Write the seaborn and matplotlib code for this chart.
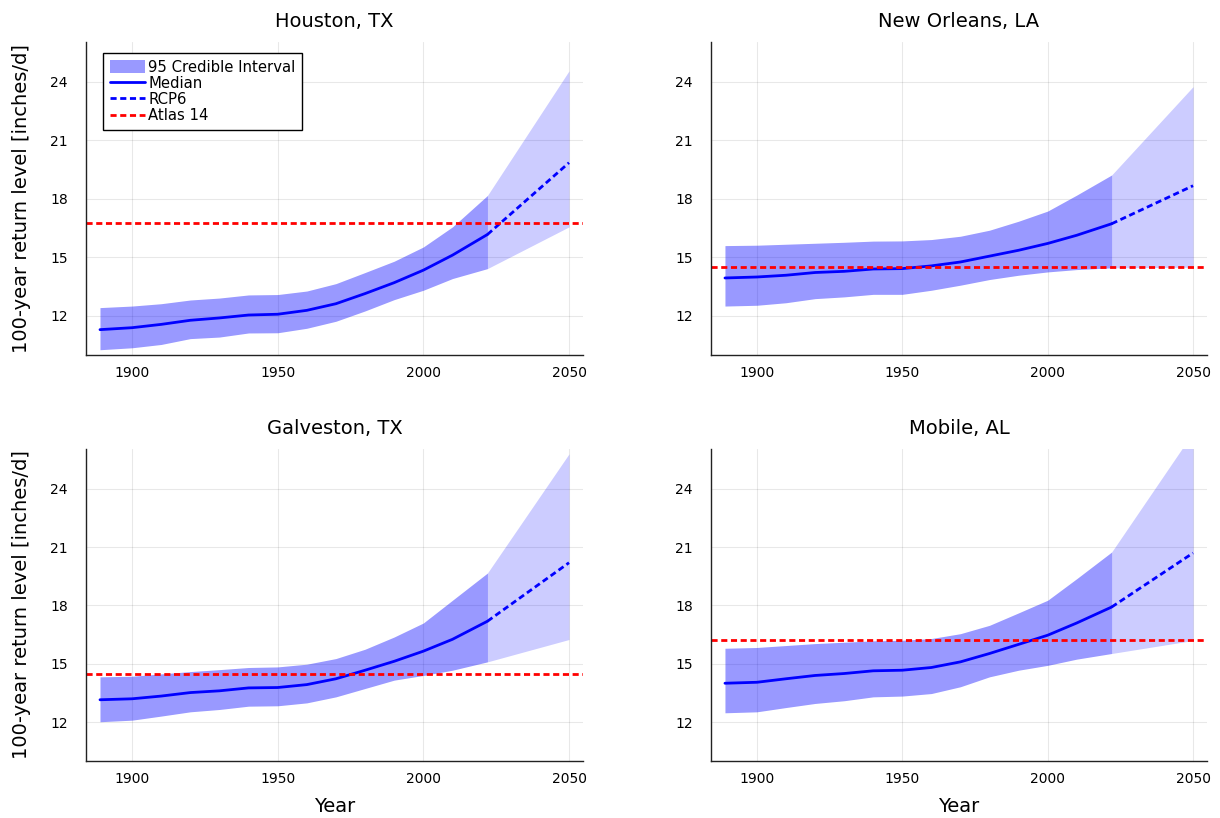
import matplotlib
matplotlib.use("Agg")
import matplotlib.pyplot as plt
import seaborn as sns
import pandas as pd
from matplotlib.patches import Patch
from matplotlib.lines import Line2D

# ---------------- data ----------------
years_hist = [1889, 1900, 1910, 1920, 1930, 1940, 1950, 1960, 1970, 1980, 1990, 2000, 2010, 2022]
years_proj = [2022, 2050]

cities = ["Houston, TX", "New Orleans, LA", "Galveston, TX", "Mobile, AL"]

houston_median = [11.30, 11.40, 11.57, 11.78, 11.90, 12.05, 12.09, 12.29, 12.63, 13.15, 13.71, 14.35, 15.12, 16.18]
houston_upper = [12.43, 12.51, 12.63, 12.82, 12.92, 13.08, 13.10, 13.28, 13.66, 14.23, 14.81, 15.54, 16.57, 18.18]
houston_lower = [10.27, 10.37, 10.54, 10.84, 10.92, 11.13, 11.14, 11.37, 11.73, 12.26, 12.84, 13.32, 13.92, 14.43]
houston_proj_median = [16.18, 19.86]
houston_proj_upper = [18.18, 24.57]
houston_proj_lower = [14.43, 16.57]
houston_atlas = 16.79

neworleans_median = [13.95, 14.00, 14.09, 14.23, 14.29, 14.41, 14.43, 14.57, 14.77, 15.07, 15.37, 15.72, 16.14, 16.73]
neworleans_upper = [15.61, 15.63, 15.68, 15.73, 15.78, 15.84, 15.85, 15.92, 16.09, 16.40, 16.86, 17.38, 18.20, 19.23]
neworleans_lower = [12.51, 12.55, 12.68, 12.89, 12.98, 13.11, 13.11, 13.32, 13.58, 13.87, 14.09, 14.26, 14.38, 14.47]
neworleans_proj_median = [16.73, 18.68]
neworleans_proj_upper = [19.23, 23.76]
neworleans_proj_lower = [14.47, 14.50]
neworleans_atlas = 14.5

galveston_median = [13.15, 13.20, 13.34, 13.52, 13.61, 13.76, 13.78, 13.93, 14.23, 14.67, 15.13, 15.65, 16.26, 17.19]
galveston_upper = [14.33, 14.36, 14.48, 14.60, 14.70, 14.81, 14.84, 14.98, 15.27, 15.75, 16.38, 17.10, 18.27, 19.67]
galveston_lower = [12.02, 12.10, 12.31, 12.53, 12.65, 12.82, 12.84, 12.99, 13.30, 13.73, 14.16, 14.40, 14.67, 15.10]
galveston_proj_median = [17.19, 20.20]
galveston_proj_upper = [19.67, 25.80]
galveston_proj_lower = [15.10, 16.25]
galveston_atlas = 14.5

mobile_median = [14.00, 14.05, 14.23, 14.40, 14.50, 14.64, 14.67, 14.81, 15.10, 15.53, 16.00, 16.47, 17.10, 17.92]
mobile_upper = [15.80, 15.84, 15.94, 16.04, 16.11, 16.18, 16.21, 16.30, 16.55, 16.98, 17.62, 18.27, 19.38, 20.75]
mobile_lower = [12.48, 12.53, 12.75, 12.96, 13.10, 13.30, 13.34, 13.47, 13.82, 14.33, 14.67, 14.92, 15.24, 15.53]
mobile_proj_median = [17.92, 20.70]
mobile_proj_upper = [20.75, 26.90]
mobile_proj_lower = [15.53, 16.20]
mobile_atlas = 16.2

x_ticks = [1900, 1950, 2000, 2050]
y_ticks = [12, 15, 18, 21, 24]

series = {
    "Houston, TX": (houston_median, houston_upper, houston_lower,
                    houston_proj_median, houston_proj_upper, houston_proj_lower, houston_atlas),
    "New Orleans, LA": (neworleans_median, neworleans_upper, neworleans_lower,
                        neworleans_proj_median, neworleans_proj_upper, neworleans_proj_lower, neworleans_atlas),
    "Galveston, TX": (galveston_median, galveston_upper, galveston_lower,
                      galveston_proj_median, galveston_proj_upper, galveston_proj_lower, galveston_atlas),
    "Mobile, AL": (mobile_median, mobile_upper, mobile_lower,
                   mobile_proj_median, mobile_proj_upper, mobile_proj_lower, mobile_atlas),
}

# ---------------- style ----------------
sns.set_theme(style="white")
plt.rcParams["font.family"] = ["DejaVu Sans"]
plt.rcParams["text.color"] = "black"
plt.rcParams["axes.labelcolor"] = "black"
plt.rcParams["xtick.color"] = "black"
plt.rcParams["ytick.color"] = "black"

fig = plt.figure(figsize=(12.2, 8.18), dpi=100)
W, H = 1220, 818
boxes = [(86, 42, 583, 355), (711, 42, 1207, 355), (86, 449, 583, 761), (711, 449, 1207, 761)]

BLUE = "#0000ff"
RED = "#ff0000"
dot = (0, (2.2, 1.3))

for i, city in enumerate(cities):
    l, t, r, b = boxes[i]
    ax = fig.add_axes([l / W, 1 - b / H, (r - l) / W, (b - t) / H])
    med, up, lo, pmed, pup, plo, atlas = series[city]

    ax.fill_between(years_hist, lo, up, color=BLUE, alpha=0.4, linewidth=0)
    ax.fill_between(years_proj, plo, pup, color=BLUE, alpha=0.2, linewidth=0)

    dfh = pd.DataFrame({"year": years_hist, "value": med})
    dfp = pd.DataFrame({"year": years_proj, "value": pmed})
    sns.lineplot(data=dfh, x="year", y="value", ax=ax, color=BLUE, linewidth=2.0)
    sns.lineplot(data=dfp, x="year", y="value", ax=ax, color=BLUE, linewidth=2.0, linestyle=dot)
    ax.axhline(atlas, color=RED, linewidth=2.0, linestyle=dot)

    ax.set_xlim(1884.2, 2054.8)
    ax.set_ylim(10.0, 26.05)
    ax.set_xticks(x_ticks)
    ax.set_yticks(y_ticks)
    ax.grid(True, color="black", alpha=0.09, linewidth=0.8)
    for s in ["top", "right"]:
        ax.spines[s].set_visible(False)
    for s in ["left", "bottom"]:
        ax.spines[s].set_color("#222222")
        ax.spines[s].set_linewidth(1.0)
    ax.tick_params(axis="both", direction="in", length=4, width=0.8, colors="#222222",
                   labelcolor="black", labelsize=10)
    ax.tick_params(axis="y", pad=13)
    ax.tick_params(axis="x", pad=8)
    ax.set_title(city, fontsize=14, pad=11, color="black")

    if i in (0, 2):
        ax.set_ylabel("100-year return level [inches/d]", fontsize=14)
        ax.yaxis.set_label_coords(-0.11, 0.5)
    else:
        ax.set_ylabel("")
    if i in (2, 3):
        ax.set_xlabel("Year", fontsize=14, labelpad=8)
    else:
        ax.set_xlabel("")

    if i == 0:
        handles = [
            Patch(facecolor=BLUE, alpha=0.4, edgecolor="none", label="95 Credible Interval"),
            Line2D([], [], color=BLUE, linewidth=2.0, label="Median"),
            Line2D([], [], color=BLUE, linewidth=2.0, linestyle=dot, label="RCP6"),
            Line2D([], [], color=RED, linewidth=2.0, linestyle=dot, label="Atlas 14"),
        ]
        leg = ax.legend(handles=handles, loc="upper left", bbox_to_anchor=(0.034, 0.965),
                        fontsize=10.7, frameon=True, fancybox=False, framealpha=1,
                        edgecolor="black", borderpad=0.45, labelspacing=0.08,
                        handlelength=2.4, handleheight=0.9, handletextpad=0.2, borderaxespad=0)
        leg.get_frame().set_linewidth(1.0)

fig.savefig("out.png", dpi=100)
